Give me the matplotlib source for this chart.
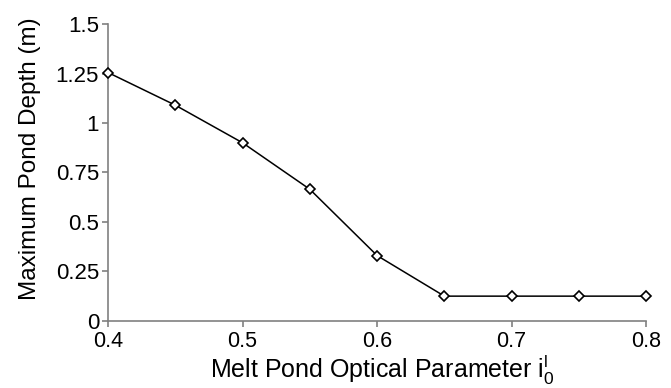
import matplotlib
matplotlib.use("Agg")
import matplotlib.pyplot as plt

plt.rcParams['font.family'] = ['Liberation Sans', 'DejaVu Sans']
plt.rcParams['mathtext.fontset'] = 'custom'
plt.rcParams['mathtext.rm'] = 'Liberation Sans'

optical_param = [0.4, 0.45, 0.5, 0.55, 0.6, 0.65, 0.7, 0.75, 0.8]
max_depth = [1.255, 1.09, 0.90, 0.665, 0.33, 0.125, 0.125, 0.125, 0.125]

x_ticks = [0.4, 0.5, 0.6, 0.7, 0.8]
x_ticklabels = ['0.4', '0.5', '0.6', '0.7', '0.8']
y_ticks = [0, 0.25, 0.5, 0.75, 1.0, 1.25, 1.5]
y_ticklabels = ['0', '0.25', '0.5', '0.75', '1', '1.25', '1.5']

fig = plt.figure(figsize=(6.71, 3.88), dpi=100)
ax = fig.add_axes([0.161, 0.173, 0.802, 0.765])

ax.plot(optical_param, max_depth, color='k', linewidth=1.1, marker='D',
        markersize=4.8, markerfacecolor='white', markeredgecolor='k',
        markeredgewidth=1.2, clip_on=False, zorder=3)

ax.set_xlim(0.4, 0.8)
ax.set_ylim(0, 1.5)
ax.set_xticks(x_ticks)
ax.set_xticklabels(x_ticklabels)
ax.set_yticks(y_ticks)
ax.set_yticklabels(y_ticklabels)

for side in ['top', 'right']:
    ax.spines[side].set_visible(False)
for side in ['left', 'bottom']:
    ax.spines[side].set_color('#808080')
    ax.spines[side].set_linewidth(1.2)

ax.tick_params(direction='out', length=4.5, width=1.2, color='#808080',
               labelsize=16)
ax.tick_params(axis='x', pad=3, labelsize=15.5)
ax.tick_params(axis='y', pad=2)

ax.set_xlabel(r'Melt Pond Optical Parameter i$_\mathregular{0}^\mathregular{l}$',
              fontsize=18)
ax.xaxis.set_label_coords(0.509, -0.107)
ax.set_ylabel('Maximum Pond Depth (m)', fontsize=17.5)
ax.yaxis.set_label_coords(-0.125, 0.545)

plt.savefig('out.png', dpi=100)
